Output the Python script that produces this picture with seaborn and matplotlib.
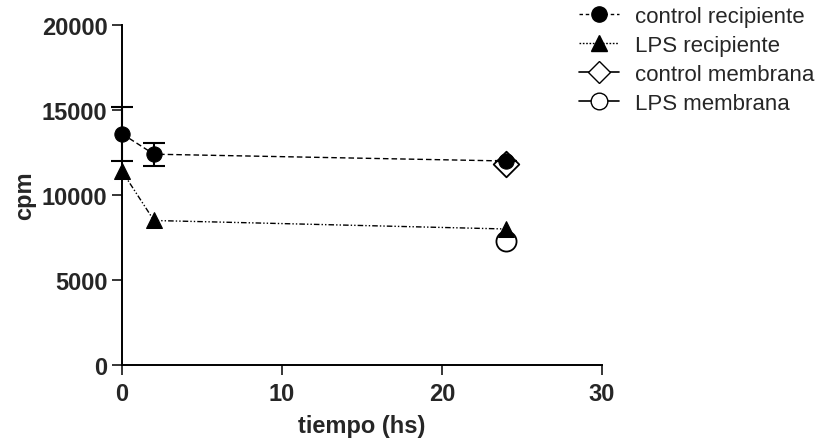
import matplotlib
matplotlib.use("Agg")
import matplotlib.pyplot as plt
from matplotlib.lines import Line2D
import seaborn as sns
import pandas as pd
import numpy as np

# time points (h) and counts (cpm)
t_recip = [0, 2, 24]
control_recip = [13600, 12400, 12000]
control_recip_sd = [1600, 680, 0]
lps_recip = [11400, 8500, 8000]

t_memb = [24]
control_memb = [11800]
lps_memb = [7300]

labels = ["control recipiente", "LPS recipiente", "control membrana", "LPS membrana"]
x_ticks = [0, 10, 20, 30]
y_ticks = [0, 5000, 10000, 15000, 20000]

sns.set_theme(style="ticks")
plt.rcParams["font.family"] = ["Liberation Sans", "DejaVu Sans"]

fig = plt.figure(figsize=(8.17, 4.39), dpi=100)
ax = fig.add_axes([0.1493, 0.1663, 0.5875, 0.7745])

dash_ctrl = (4, 2.2)
dash_lps = (4, 1.5, 1, 1.5, 1, 1.5)

df_c = pd.DataFrame({"t": t_recip, "cpm": control_recip})
df_l = pd.DataFrame({"t": t_recip, "cpm": lps_recip})

# membrane points underneath
sns.scatterplot(x=t_memb, y=control_memb, ax=ax, marker="D", s=170,
                facecolor="white", edgecolor="black", linewidth=1.3,
                zorder=3, clip_on=False)
sns.scatterplot(x=t_memb, y=lps_memb, ax=ax, marker="o", s=210,
                facecolor="white", edgecolor="black", linewidth=1.3,
                zorder=3, clip_on=False)

sns.lineplot(data=df_l, x="t", y="cpm", ax=ax, color="black", lw=1.0,
             marker="^", markersize=11, markeredgecolor="black",
             dashes=False, zorder=4, clip_on=False)
ax.lines[-1].set_dashes(dash_lps)

sns.lineplot(data=df_c, x="t", y="cpm", ax=ax, color="black", lw=1.0,
             marker="o", markersize=11, markeredgecolor="black",
             dashes=False, zorder=5, clip_on=False)
ax.lines[-1].set_dashes(dash_ctrl)

ax.errorbar(t_recip, control_recip, yerr=control_recip_sd, fmt="none",
            ecolor="black", elinewidth=1.5, capsize=8, capthick=1.5,
            zorder=5, clip_on=False)

ax.set_xlim(0, 30)
ax.set_ylim(0, 20000)
ax.set_xticks(x_ticks)
ax.set_yticks(y_ticks)
ax.set_xticklabels([str(v) for v in x_ticks], fontsize=17, fontweight="bold")
ax.set_yticklabels([str(v) for v in y_ticks], fontsize=17, fontweight="bold")
ax.tick_params(axis="y", length=7.5, width=1.1, color="black", pad=3)
ax.tick_params(axis="x", length=7.5, width=1.1, color="black", pad=5)
ax.set_xlabel("tiempo (hs)", fontsize=17, fontweight="bold", labelpad=6)
ax.set_ylabel("cpm", fontsize=17, fontweight="bold", labelpad=4)
for s in ("top", "right"):
    ax.spines[s].set_visible(False)
for s in ("left", "bottom"):
    ax.spines[s].set_linewidth(1.4)
    ax.spines[s].set_color("black")

handles = [
    Line2D([], [], color="black", lw=1.0, dashes=(2.5, 2), marker="o",
           markersize=11, markerfacecolor="black"),
    Line2D([], [], color="black", lw=1.0, dashes=(1.2, 1.2), marker="^",
           markersize=11, markerfacecolor="black"),
    Line2D([], [], color="black", lw=1.2, marker="D", markersize=11,
           markerfacecolor="white"),
    Line2D([], [], color="black", lw=1.2, marker="o", markersize=12,
           markerfacecolor="white"),
]
fig.legend(handles, labels, loc="upper left", bbox_to_anchor=(0.684, 1.03),
           frameon=False, fontsize=16, handlelength=1.8, handletextpad=0.75,
           labelspacing=0.36)

fig.savefig("out.png", dpi=100)
